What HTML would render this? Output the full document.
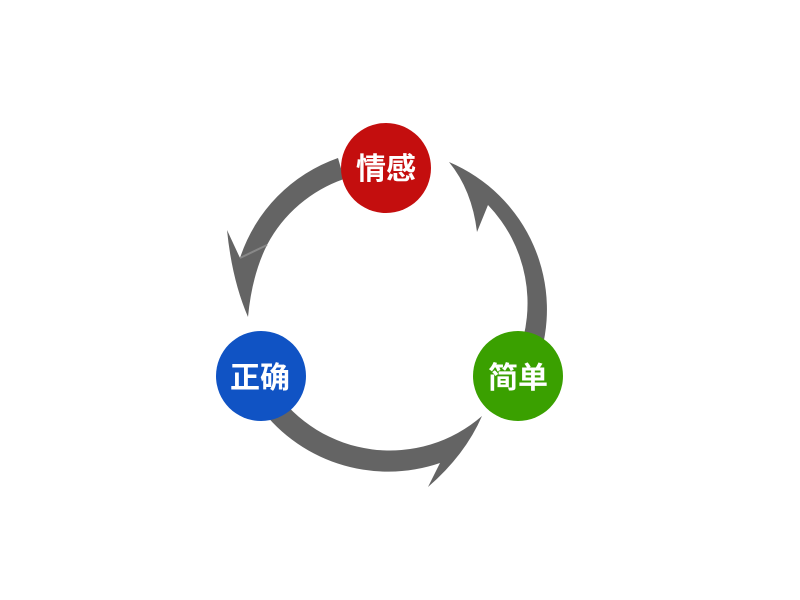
<!DOCTYPE html>
<html><head><meta charset="utf-8"><style>
html,body{margin:0;padding:0;background:#fff;width:800px;height:600px;overflow:hidden}
text{font-family:"Liberation Sans","Noto Sans CJK SC",sans-serif;font-weight:bold;fill:#fff}
</style></head><body>
<svg width="800" height="600" viewBox="0 0 800 600">
<g fill="#646464">
<path d="M338,158 A158 158 0 0 0 240,258 L227,230 Q232,280 248,317 Q252,275 267,245 A138 138 0 0 1 344,179 Z"/>
<path d="M537,365 A160 160 0 0 0 449,162 Q472,190 477,232 L488,205 A142 142 0 0 1 517,357 Z"/>
<path d="M256,402 A160 160 0 0 0 440,463 L428,487 Q465,455 482,416 A140 140 0 0 1 274,389 Z"/>
</g>
<line x1="240" y1="258" x2="267" y2="245" stroke="#888" stroke-width="2"/>
<circle cx="386" cy="168" r="45" fill="#c40e0e"/>
<circle cx="261" cy="376" r="45" fill="#1053c4"/>
<circle cx="518" cy="376" r="45" fill="#3aa000"/>
<text x="386" y="179" font-size="30" text-anchor="middle">情感</text>
<text x="260" y="388" font-size="30" text-anchor="middle">正确</text>
<text x="518" y="388" font-size="30" text-anchor="middle">简单</text>
</svg>
</body></html>
